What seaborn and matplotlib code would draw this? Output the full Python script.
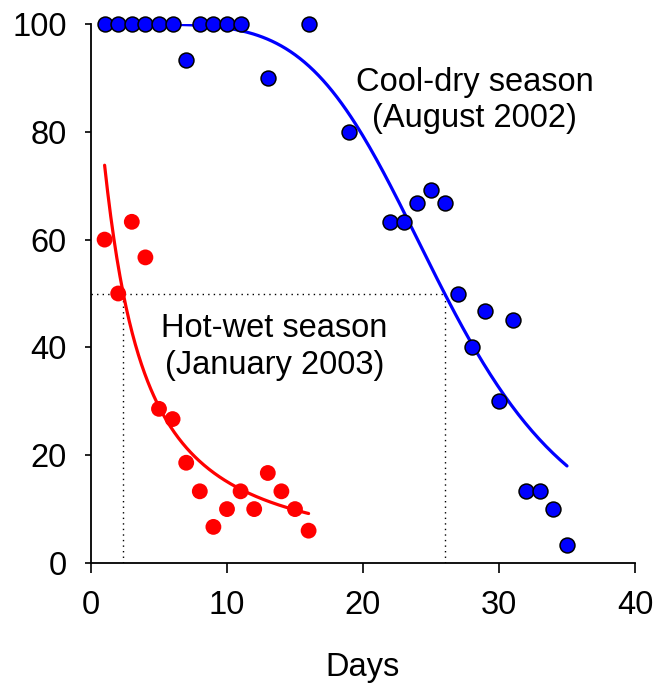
import numpy as np
import pandas as pd
import matplotlib
matplotlib.use("Agg")
import matplotlib.pyplot as plt
import seaborn as sns

# ---- data ----
cool_days = [1, 2, 3, 4, 5, 6, 7, 8, 9, 10, 11, 13, 16, 19, 22, 23, 24, 25, 26,
             27, 28, 29, 30, 31, 32, 33, 34, 35]
cool_surv = [100, 100, 100, 100, 100, 100, 93.3, 100, 100, 100, 100, 90, 100, 80,
             63.3, 63.3, 66.7, 69.2, 66.7, 50, 40, 46.7, 30, 45, 13.3, 13.3, 10, 3.3]

hot_days = [1, 2, 3, 4, 5, 6, 7, 8, 9, 10, 11, 12, 13, 14, 15, 16]
hot_surv = [60, 50, 63.3, 56.7, 28.6, 26.7, 18.6, 13.3, 6.7, 10, 13.3, 10, 16.7,
            13.3, 10, 6]

# fitted log-logistic survival curves: 100 / (1 + (day / LT50) ** slope)
cool_lt50, cool_slope, cool_range = 26.0, 5.1, (1, 35)
hot_lt50, hot_slope, hot_range = 2.37, 1.2, (1, 16)

x_ticks = [0, 10, 20, 30, 40]
y_ticks = [0, 20, 40, 60, 80, 100]

cool_label = ["Cool-dry season", "(August 2002)"]
hot_label = ["Hot-wet season", "(January 2003)"]

# ---- build tables ----
def fit_curve(lt50, slope, rng):
    d = np.linspace(rng[0], rng[1], 200)
    return pd.DataFrame({"day": d, "surv": 100.0 / (1.0 + (d / lt50) ** slope)})

cool_df = pd.DataFrame({"day": cool_days, "surv": cool_surv})
hot_df = pd.DataFrame({"day": hot_days, "surv": hot_surv})
cool_fit = fit_curve(cool_lt50, cool_slope, cool_range)
hot_fit = fit_curve(hot_lt50, hot_slope, hot_range)

sns.set_style("ticks")
plt.rcParams["font.family"] = ["Liberation Sans", "DejaVu Sans"]
plt.rcParams["text.color"] = "black"
plt.rcParams["axes.labelcolor"] = "black"
plt.rcParams["xtick.color"] = "black"
plt.rcParams["ytick.color"] = "black"

fig = plt.figure(figsize=(6.54, 6.88), dpi=100)
ax = fig.add_axes([91 / 654, 1 - 563 / 688, (635 - 91) / 654, (563 - 24) / 688])

# dotted LT50 guide lines
dot = (0, (1, 3))
ax.plot([0, cool_lt50], [50, 50], color="black", lw=1, ls=dot, zorder=1)
ax.plot([hot_lt50, hot_lt50], [0, 50], color="black", lw=1, ls=dot, zorder=1)
ax.plot([cool_lt50, cool_lt50], [0, 50], color="black", lw=1, ls=dot, zorder=1)

sns.lineplot(data=cool_fit, x="day", y="surv", color="#0000FF", lw=2.3, ax=ax, zorder=2)
sns.lineplot(data=hot_fit, x="day", y="surv", color="#FF0000", lw=2.3, ax=ax, zorder=2)

sns.scatterplot(data=cool_df, x="day", y="surv", color="#0000FF", edgecolor="black",
                linewidth=1.1, s=115, ax=ax, zorder=6, clip_on=False)
sns.scatterplot(data=hot_df, x="day", y="surv", color="#FF0000", edgecolor="none",
                linewidth=0, s=130, ax=ax, zorder=6, clip_on=False)

fs = 23.5
ax.text(28.2, 87.5, cool_label[0], ha="center", va="baseline", fontsize=fs, color="black")
ax.text(28.2, 80.8, cool_label[1], ha="center", va="baseline", fontsize=fs, color="black")
ax.text(13.5, 42.0, hot_label[0], ha="center", va="baseline", fontsize=fs, color="black")
ax.text(13.5, 35.1, hot_label[1], ha="center", va="baseline", fontsize=fs, color="black")

ax.set_xlim(0, 40)
ax.set_ylim(0, 100)
ax.set_xticks(x_ticks)
ax.set_yticks(y_ticks)
ax.tick_params(axis="both", labelsize=fs, width=1.2, direction="out",
               color="black", labelcolor="black")
ax.tick_params(axis="x", length=7.5, pad=12)
ax.tick_params(axis="y", length=4.5, pad=13)
ax.set_xlabel("Days", fontsize=fs, labelpad=22, color="black")
ax.set_ylabel("")
for sp in ["top", "right"]:
    ax.spines[sp].set_visible(False)
for sp in ["left", "bottom"]:
    ax.spines[sp].set_linewidth(1.3)
    ax.spines[sp].set_color("black")
    ax.spines[sp].set_zorder(5)

fig.savefig("out.png", dpi=100)
